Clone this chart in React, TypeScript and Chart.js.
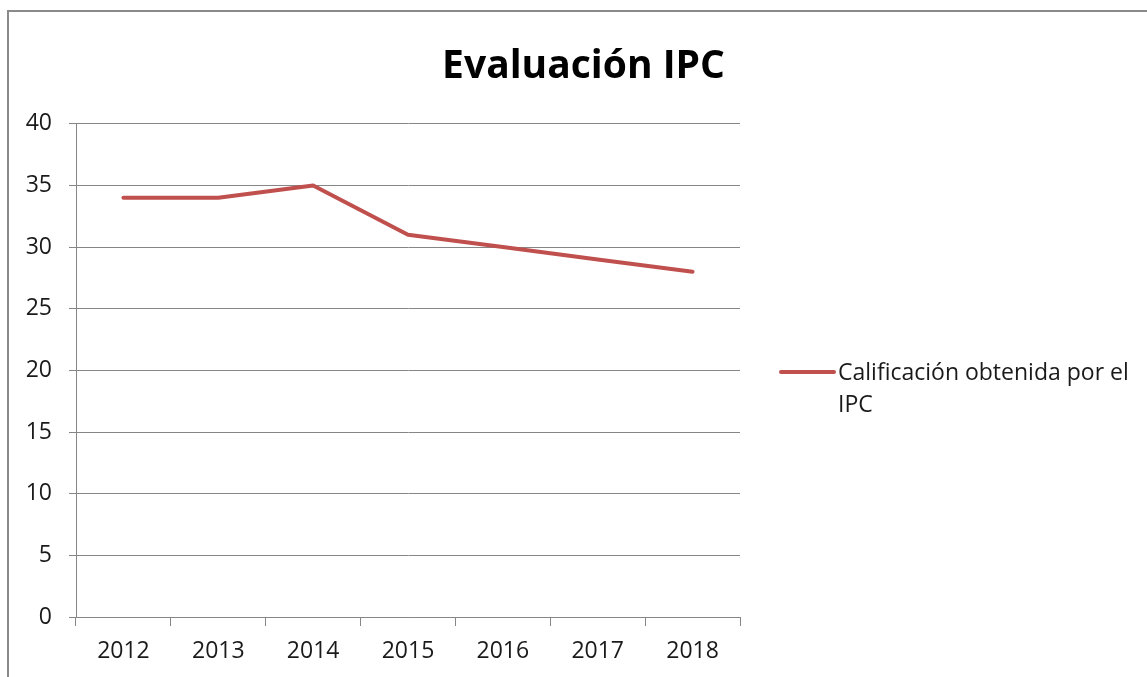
import React, { useEffect, useRef } from "react";
import { Chart, registerables } from "chart.js";

Chart.register(...registerables);

const categories = ["2012", "2013", "2014", "2015", "2016", "2017", "2018"];
const seriesValues = [34, 34, 35, 31, 30, 29, 28];
const seriesLabel = "Calificación obtenida por el IPC";
const legendLines = ["Calificación obtenida por el", "IPC"];
const titleText = "Evaluación IPC";
const yTicks = [0, 5, 10, 15, 20, 25, 30, 35, 40];

const FONT = "'Open Sans', 'DejaVu Sans', sans-serif";
const GRID = "#868686";
const RED = "#c0504d";

const legendPlugin = {
  id: "customLegend",
  afterDraw(chart: any) {
    const ctx = chart.ctx;
    const area = chart.chartArea;
    const ds = chart.data.datasets[0];
    const x0 = area.right + 41;
    const y0 = 372;
    ctx.save();
    ctx.strokeStyle = ds.borderColor;
    ctx.lineWidth = 4;
    ctx.lineCap = "round";
    ctx.beginPath();
    ctx.moveTo(x0, y0);
    ctx.lineTo(x0 + 53, y0);
    ctx.stroke();
    ctx.fillStyle = "#1a1a1a";
    ctx.font = `23px ${FONT}`;
    ctx.textBaseline = "alphabetic";
    ctx.textAlign = "left";
    legendLines.forEach((line, i) => {
      ctx.fillText(line, x0 + 57, 380 + i * 32);
    });
    ctx.restore();
  },
};

export default function App() {
  const ref = useRef<HTMLCanvasElement>(null);
  useEffect(() => {
    if (!ref.current) return;
    const chart = new Chart(ref.current, {
      type: "line",
      data: {
        labels: categories,
        datasets: [
          {
            label: seriesLabel,
            data: seriesValues,
            borderColor: RED,
            backgroundColor: RED,
            borderWidth: 4,
            pointRadius: 0,
            tension: 0,
            borderJoinStyle: "round",
            borderCapStyle: "round",
          },
        ],
      },
      options: {
        animation: false,
        responsive: false,
        maintainAspectRatio: false,
        layout: { padding: { left: 20, right: 0, top: 0, bottom: 0 } },
        plugins: {
          legend: { display: false },
          tooltip: { enabled: false },
          title: {
            display: true,
            text: titleText,
            color: "#000",
            font: { family: FONT, size: 39, weight: "bold" },
            padding: { top: 43, bottom: 34 },
          },
        },
        scales: {
          x: {
            type: "category",
            offset: true,
            afterFit: (scale: any) => {
              scale.height = 60;
            },
            grid: {
              offset: true,
              drawOnChartArea: false,
              drawTicks: true,
              tickLength: 9,
              color: GRID,
            },
            border: { color: GRID },
            ticks: {
              color: "#1a1a1a",
              font: { family: FONT, size: 23 },
              padding: 12,
              maxRotation: 0,
            },
          },
          y: {
            min: 0,
            max: 40,
            afterBuildTicks: (scale: any) => {
              scale.ticks = yTicks.map((v) => ({ value: v }));
            },
            afterFit: (scale: any) => {
              scale.width = 56;
            },
            grid: { color: GRID, drawTicks: true, tickLength: 7 },
            border: { color: GRID },
            ticks: {
              color: "#1a1a1a",
              font: { family: FONT, size: 23 },
              padding: 17,
            },
          },
          yPad: {
            position: "right",
            display: true,
            grid: { display: false },
            border: { display: false },
            ticks: { display: false },
            afterFit: (scale: any) => {
              scale.width = 407;
            },
          },
        },
      },
      plugins: [legendPlugin],
    } as any);
    return () => chart.destroy();
  }, []);

  return (
    <div style={{ position: "fixed", left: 0, top: 0, width: 1147, height: 677, overflow: "hidden", background: "#fff" }}>
      <div
        style={{
          position: "absolute",
          left: 7,
          top: 10,
          width: 1300,
          height: 800,
          border: "2px solid #8a8a8a",
        }}
      />
      <canvas ref={ref} width={1147} height={677} style={{ position: "absolute", left: 0, top: 0 }} />
    </div>
  );
}
